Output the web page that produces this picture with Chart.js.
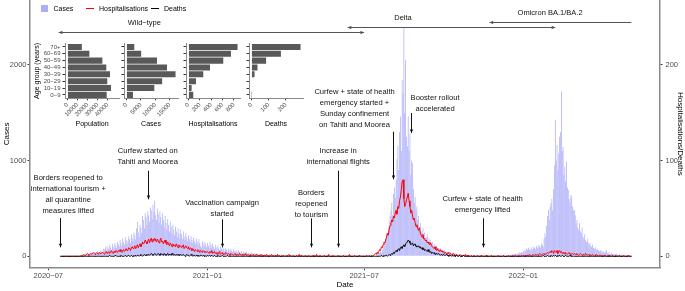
<!DOCTYPE html>
<html>
<head>
<meta charset="utf-8">
<script src="https://cdn.jsdelivr.net/npm/chart.js@4.4.1/dist/chart.umd.min.js"></script>
<style>
  body { margin: 0; background: #fff; }
  #wrap { position: relative; width: 685px; height: 291px; overflow: hidden; font-family: 'Liberation Sans', Arial, sans-serif; }
  #main { position: absolute; left: 0; top: 0; }
  .key { position: absolute; }
  .keytxt { position: absolute; top: 4px; font-size: 7px; line-height: 9px; color: #000; white-space: nowrap; }
</style>
</head>
<body>
<div id="wrap">
  <canvas id="main" width="685" height="291"></canvas>
</div>
<script>
// ---- daily series, one sub-array per month (first chunk starts 15 Jul 2020) ----
const chunkStarts = ['2020-07-15', '2020-08-01', '2020-09-01', '2020-10-01', '2020-11-01', '2020-12-01',
  '2021-01-01', '2021-02-01', '2021-03-01', '2021-04-01', '2021-05-01', '2021-06-01',
  '2021-07-01', '2021-08-01', '2021-09-01', '2021-10-01', '2021-11-01', '2021-12-01',
  '2022-01-01', '2022-02-01', '2022-03-01', '2022-04-01', '2022-05-01'];

const cases = [
  [0,0,0,0,0,0,0,0,0,1,0,0,2,0,1,0,3],
  [2,0,4,3,6,5,8,12,10,15,9,20,18,25,14,22,30,28,19,35,40,26,33,45,38,30,52,41,36,60,48],
  [60,45,80,70,95,55,110,85,70,120,95,60,130,100,80,140,115,90,150,125,100,170,140,110,185,150,120,200,170,130],
  [160,210,180,140,230,190,160,250,220,175,290,360,250,200,330,300,240,420,380,290,450,410,330,470,430,360,510,480,390,540,460],
  [580,430,380,500,440,350,470,410,330,450,380,300,420,350,280,390,330,260,360,310,240,330,280,220,310,260,200,290,240,190],
  [280,230,180,260,210,170,240,200,160,220,180,150,210,170,140,200,160,130,190,150,120,180,140,110,90,160,130,100,150,120,95],
  [140,110,85,150,120,90,130,100,80,120,95,70,110,85,65,100,80,60,95,75,55,90,70,50,85,65,48,80,60,45,70],
  [55,40,65,50,38,60,45,33,55,40,30,50,36,28,45,33,25,40,30,22,38,28,20,35,25,18,30,22],
  [16,26,18,14,22,15,12,20,14,10,18,12,9,15,10,8,13,9,7,12,8,6,10,7,5,9,6,5,8,5,4],
  [6,4,3,5,3,2,4,3,2,5,3,2,4,2,1,3,2,1,3,2,1,2,2,1,3,1,1,2,1,1],
  [2,1,1,3,1,0,2,1,1,2,0,1,3,1,0,2,1,0,1,2,0,1,1,0,2,1,0,1,1,0,1],
  [1,0,2,1,0,1,1,0,2,1,0,1,2,0,1,1,0,2,1,0,1,2,1,0,2,1,1,3,1,2],
  [2,1,3,2,1,4,2,3,5,3,4,6,8,10,14,18,25,22,35,48,40,62,85,110,150,180,240,220,300,360,420],
  [480,560,430,650,720,610,800,1020,1150,900,1300,1460,1100,1845,1700,2385,1500,2050,1250,1150,1460,1100,1287,850,1000,973,700,554,620,480,520],
  [380,420,300,350,260,240,300,220,250,180,200,230,160,190,140,170,120,150,110,130,100,95,110,80,90,70,85,60,75,55],
  [50,65,45,55,40,35,48,30,42,28,35,25,32,20,28,18,25,15,20,14,18,12,15,10,14,9,12,8,10,7,9],
  [6,8,5,7,4,6,5,3,6,4,5,3,4,2,5,3,4,2,3,2,4,3,2,3,2,4,3,2,3,4],
  [3,4,3,5,4,3,6,5,4,6,5,7,8,10,12,9,15,14,18,20,16,25,28,22,30,26,35,40,32,45,38],
  [50,60,45,70,84,65,90,75,60,95,80,70,100,90,75,110,95,85,120,105,90,136,120,100,180,240,200,320,420,484,380],
  [520,554,600,480,700,950,1426,1000,1164,900,1077,1250,1300,1722,1100,1146,850,937,780,990,720,694,600,560,640,624,520,480],
  [484,430,345,380,300,280,350,260,240,300,205,190,230,170,150,180,136,120,140,110,100,120,90,80,95,70,66,80,60,55,65],
  [50,45,55,40,38,48,66,35,30,40,28,25,33,24,20,28,18,22,25,16,14,20,12,15,18,10,12,14,9,11],
  [8,10,6,9,5,4]
];

const hospitalisations = [
  [0,0,0,0,0,0,0,0,0,0,0,0,0,0,0,0,0],
  [0,0,0,0,0,0,0,1,0,1,2,1,1,2,3,2,1,2,3,2,3,4,3,2,3,4,3,2,4,3,3],
  [3,4,3,2,4,5,3,4,5,3,4,6,4,3,5,4,6,5,4,6,5,7,5,4,6,7,5,6,8,6],
  [7,9,8,6,9,10,8,9,11,8,10,12,9,11,13,10,12,15,13,14,17,15,13,16,18,14,17,19,15,18,16],
  [19,17,15,18,16,14,17,19,15,16,13,15,17,14,12,15,13,11,14,12,10,13,11,12,10,13,11,9,12,10],
  [11,9,10,12,8,10,11,9,8,10,7,9,8,6,8,7,5,7,6,5,7,6,4,6,5,4,6,5,4,5,4],
  [5,4,3,5,4,6,3,4,5,3,4,2,4,3,5,2,3,4,2,3,2,4,3,2,3,2,1,3,2,2,1],
  [2,3,1,2,2,1,3,2,1,2,1,2,1,3,1,1,2,1,0,2,1,1,2,0,1,1,2,0],
  [1,1,0,2,1,0,1,1,0,2,1,0,1,0,1,2,0,1,0,0,1,0,2,0,1,0,0,1,0,1,0],
  [0,1,0,0,2,0,1,0,0,1,0,0,0,1,0,0,2,0,0,1,0,0,0,1,0,0,0,1,0,0],
  [0,0,1,0,0,0,2,0,0,0,1,0,0,0,0,1,0,0,0,0,2,0,0,0,0,1,0,0,0,0,0],
  [1,0,0,0,0,0,1,0,0,0,0,0,0,2,0,0,0,0,0,1,0,0,0,0,0,1,0,0,0,0],
  [0,0,0,1,0,0,1,0,0,1,0,1,2,3,2,4,3,5,7,6,10,9,12,15,14,17,20,24,22,28,32],
  [34,38,36,42,40,45,48,44,52,50,58,62,70,78,80,60,52,55,59,62,66,58,52,45,48,42,38,40,35,31,33],
  [29,27,30,24,22,20,23,18,19,16,17,14,15,13,12,14,11,10,9,8,10,7,6,8,6,5,7,5,6,4],
  [5,3,4,3,2,4,3,2,3,2,1,3,2,2,1,2,1,0,1,2,1,0,1,1,0,2,0,1,0,1,0],
  [0,1,0,0,1,0,0,0,1,0,0,0,0,1,0,0,0,0,1,0,0,0,0,0,1,0,0,0,0,0],
  [0,0,1,0,0,0,0,0,1,0,0,0,0,0,1,0,0,0,0,1,0,0,1,0,0,0,1,0,0,1,0],
  [1,0,1,0,1,1,0,2,1,0,1,2,1,1,2,1,2,1,2,3,2,1,2,3,2,3,2,3,4,3,4],
  [5,4,6,5,3,6,5,4,6,3,5,6,4,5,3,4,3,2,4,3,2,3,4,2,3,2,3,2],
  [3,2,2,3,2,1,2,3,2,1,2,2,1,3,2,1,2,1,2,1,1,2,1,0,1,2,1,1,0,1,1],
  [1,0,1,0,1,1,0,0,1,0,1,0,0,1,0,0,0,1,0,0,0,1,0,0,0,0,1,0,0,0],
  [0,0,1,0,0,0]
];

const deaths = [
  [0,0,0,0,0,0,0,0,0,0,0,0,0,0,0,0,0],
  [0,0,0,0,0,0,0,0,0,0,0,0,0,0,0,0,0,0,0,0,0,0,0,0,0,0,0,0,0,0,0],
  [0,0,0,0,0,0,0,0,0,1,0,0,0,0,0,0,1,0,0,0,0,0,1,0,0,0,0,1,0,0],
  [0,1,0,0,1,0,0,1,0,1,0,1,1,0,1,2,1,0,1,2,1,1,2,1,2,1,2,3,2,1,2],
  [3,2,1,2,3,2,1,3,2,2,1,3,2,1,2,3,1,2,2,1,3,2,1,2,1,2,1,2,1,1],
  [2,1,1,2,1,0,1,2,1,1,0,1,2,1,0,1,1,0,1,1,0,1,0,1,1,0,1,0,1,0,0],
  [1,0,1,0,0,1,0,0,1,0,0,0,1,0,0,0,0,1,0,0,0,0,0,1,0,0,0,0,0,0,0],
  [0,0,0,0,0,0,0,0,0,0,0,0,0,0,0,0,0,0,0,0,0,0,0,0,0,0,0,0],
  [0,0,0,0,0,0,0,0,0,0,0,0,0,0,0,0,0,0,0,0,0,0,0,0,0,0,0,0,0,0,0],
  [0,0,0,0,0,0,0,0,0,0,0,0,0,0,0,0,0,0,0,0,0,0,0,0,0,0,0,0,0,0],
  [0,0,0,0,0,0,0,0,0,0,0,0,0,0,0,0,0,0,0,0,0,0,0,0,0,0,0,0,0,0,0],
  [0,0,0,0,0,0,0,0,0,0,0,0,0,0,0,0,0,0,0,0,0,0,0,0,0,0,0,0,0,0],
  [0,0,0,0,0,0,0,0,0,0,0,0,0,0,0,0,0,0,0,0,1,0,0,1,0,1,1,0,1,2,1],
  [2,3,2,4,3,5,6,5,7,8,6,9,10,8,11,12,10,13,14,15,17,16,14,12,13,14,11,12,13,10,11],
  [10,11,9,10,8,9,7,8,6,7,6,5,7,5,4,5,3,4,3,4,2,3,3,2,3,2,1,2,2,1],
  [2,1,1,2,1,1,0,1,1,0,1,0,1,0,0,1,0,0,1,0,0,0,0,1,0,0,0,0,0,0,0],
  [0,0,0,0,0,0,0,0,0,0,0,0,0,0,0,0,0,0,0,0,0,0,0,0,0,0,0,0,0,0],
  [0,0,0,0,0,0,0,0,0,0,0,0,0,0,0,0,0,0,0,0,0,0,0,0,0,0,0,0,0,0,0],
  [0,0,0,0,0,0,0,0,0,0,0,0,0,0,0,0,0,0,0,0,0,0,0,1,0,0,0,0,1,0,0],
  [0,1,0,0,1,0,1,0,0,1,0,1,0,0,1,0,0,0,1,0,0,0,0,1,0,0,0,0],
  [0,0,0,0,0,0,0,0,0,0,0,0,0,0,0,0,0,0,0,0,0,0,0,0,0,0,0,0,0,0,0],
  [0,0,0,0,0,0,0,0,0,0,0,0,0,0,0,0,0,0,0,0,0,0,0,0,0,0,0,0,0,0],
  [0,0,0,0,0,0]
];

const tickDates = ['2020-07-01', '2021-01-01', '2021-07-01', '2022-01-01'];
const tickLabels = ['2020−07', '2021−01', '2021−07', '2022−01'];
const caseTicks = [0, 1000, 2000];
const hospTicks = [0, 100, 200];

// events with arrows
const eventDates = ['2020-07-15', '2020-10-24', '2021-01-18', '2021-05-01', '2021-06-01', '2021-08-03', '2021-08-24', '2021-11-15'];
const eventLabels = [
  ['Borders reopened to', 'international tourism +', 'all quarantine', 'measures lifted'],
  ['Curfew started on', 'Tahiti and Moorea'],
  ['Vaccination campaign', 'started'],
  ['Borders', 'reopened', 'to tourism'],
  ['Increase in', 'international flights'],
  ['Curfew + state of health', 'emergency started +', 'Sunday confinement', 'on Tahiti and Moorea'],
  ['Booster rollout', 'accelerated'],
  ['Curfew + state of health', 'emergency lifted']
];

// variant periods
const variantNames = ['Wild−type', 'Delta', 'Omicron BA.1/BA.2'];
const variantStart = ['2020-07-13', '2021-06-12', '2021-11-23'];
const variantEnd = ['2021-07-01', '2022-02-07', '2022-05-06'];

// inset: age groups
const ageGroups = ['0−9', '10−19', '20−29', '30−39', '40−49', '50−59', '60−69', '70+'];
const population = [39000, 43300, 39600, 42300, 38600, 34700, 21800, 14300];
const casesByAge = [2250, 9640, 12360, 17000, 14040, 10570, 5100, 2710];
const hospByAge = [85, 56, 132, 261, 379, 613, 748, 864];
const deathsByAge = [1, 0, 3, 18, 35, 85, 171, 285];
const insetTitles = ['Population', 'Cases', 'Hospitalisations', 'Deaths'];
const insetTicks = [[0, 10000, 20000, 30000, 40000], [0, 5000, 10000, 15000], [0, 200, 400, 600, 800], [0, 100, 200]];

// ---- helpers ----
const ORIGIN = Date.UTC(2020, 6, 1);
function dayOf(s) {
  const p = s.split('-').map(Number);
  return (Date.UTC(p[0], p[1] - 1, p[2]) - ORIGIN) / 864e5;
}
function daily(chunks) {
  const pts = [];
  chunks.forEach((vals, i) => {
    const d0 = dayOf(chunkStarts[i]);
    vals.forEach((v, j) => pts.push({ x: d0 + j, y: v }));
  });
  return pts;
}
function arrow(ctx, x1, y1, x2, y2, headStart, headEnd) {
  ctx.beginPath(); ctx.moveTo(x1, y1); ctx.lineTo(x2, y2); ctx.stroke();
  const head = (ax, ay, bx, by) => {
    const a = Math.atan2(by - ay, bx - ax), len = 4, w = 0.42;
    ctx.beginPath();
    ctx.moveTo(bx, by);
    ctx.lineTo(bx - len * Math.cos(a - w), by - len * Math.sin(a - w));
    ctx.lineTo(bx - len * Math.cos(a + w), by - len * Math.sin(a + w));
    ctx.closePath(); ctx.fill();
  };
  if (headEnd) head(x1, y1, x2, y2);
  if (headStart) head(x2, y2, x1, y1);
}

const FONT = "'Liberation Sans', Arial, sans-serif";
Chart.defaults.font.family = FONT;

// annotation layer: positions in data units (cases axis) and day offsets
const notesPlugin = {
  id: 'notes',
  afterDatasetsDraw(chart, args, o) {
    const { ctx } = chart;
    const x = chart.scales.x, y = chart.scales.y;
    ctx.save();
    ctx.textAlign = 'center';
    ctx.textBaseline = 'middle';
    ctx.lineWidth = 1;
    // events
    ctx.font = '7.6px ' + FONT;
    eventDates.forEach((d, i) => {
      const L = o.events[i];
      const px = Math.round(x.getPixelForValue(dayOf(d))) + 0.5;
      const tx = x.getPixelForValue(dayOf(d) + L.shift);
      const ty = y.getPixelForValue(L.text);
      ctx.fillStyle = '#111';
      eventLabels[i].forEach((s, k) => ctx.fillText(s, tx, ty + k * o.lineGap));
      ctx.strokeStyle = '#111';
      arrow(ctx, px, y.getPixelForValue(L.from), px, y.getPixelForValue(L.to), false, true);
    });
    // variant periods
    ctx.font = '7.5px ' + FONT;
    variantNames.forEach((name, i) => {
      const V = o.variants[i];
      const yy = Math.round(y.getPixelForValue(V.y)) + 0.5;
      ctx.strokeStyle = '#555'; ctx.fillStyle = '#555';
      arrow(ctx, x.getPixelForValue(dayOf(variantStart[i])), yy, x.getPixelForValue(dayOf(variantEnd[i])), yy, true, V.endHead);
      ctx.fillStyle = '#111';
      ctx.fillText(name, x.getPixelForValue(dayOf(V.textDate)), y.getPixelForValue(V.textY));
    });
    ctx.restore();
  }
};

const tickGrid = { drawOnChartArea: false, tickLength: 2.5, color: '#333', offset: false };
const axisBorder = { color: '#8a8a8a', width: 1.5 };

const mainChart = new Chart(document.getElementById('main'), {
  type: 'bar',
  data: {
    datasets: [
      { type: 'bar', label: 'Cases', data: daily(cases), backgroundColor: '#adadfa',
        barPercentage: 0.85, categoryPercentage: 1, yAxisID: 'y', order: 3 },
      { type: 'line', label: 'Hospitalisations', data: daily(hospitalisations), borderColor: '#ff0000',
        borderWidth: 1, pointRadius: 0, tension: 0, yAxisID: 'y2', order: 2 },
      { type: 'line', label: 'Deaths', data: daily(deaths), borderColor: '#000000',
        borderWidth: 1, pointRadius: 0, tension: 0, yAxisID: 'y2', order: 1 }
    ]
  },
  options: {
    responsive: false,
    animation: false,
    events: [],
    layout: { padding: 0 },
    plugins: {
      legend: { display: false },
      tooltip: { enabled: false },
      notes: {
        lineGap: 10.8,
        events: [
          { text: 815, from: 400, to: 94, shift: 9 },
          { text: 1100, from: 894, to: 596, shift: 0 },
          { text: 554, from: 387, to: 94, shift: 0 },
          { text: 658, from: 397, to: 94, shift: 0 },
          { text: 1100, from: 894, to: 94, shift: 0 },
          { text: 1714, from: 1302, to: 805, shift: -44 },
          { text: 1651, from: 1497, to: 1288, shift: 28 },
          { text: 599, from: 397, to: 94, shift: 0 }
        ],
        variants: [
          { y: 2347, textY: 2441, textDate: '2020-10-20', endHead: true },
          { y: 2399, textY: 2493, textDate: '2021-08-15', endHead: true },
          { y: 2448, textY: 2539, textDate: '2022-02-01', endHead: false }
        ]
      }
    },
    scales: {
      x: {
        type: 'linear', min: -21.15, max: 707, offset: false,
        afterBuildTicks: s => { s.ticks = tickDates.map(d => ({ value: dayOf(d) })); },
        afterFit: s => { s.height = 23.3; s.paddingLeft = 0; s.paddingRight = 0; },
        ticks: { callback: (v, i) => tickLabels[i], font: { size: 7.5 }, color: '#4d4d4d', padding: 1.5,
                 minRotation: 0, maxRotation: 0, autoSkip: false },
        grid: tickGrid, border: axisBorder,
        title: { display: true, text: 'Date', font: { size: 8 }, color: '#000', padding: { top: 0, bottom: 1.5 } }
      },
      y: {
        position: 'left', min: -119, max: 2678,
        afterBuildTicks: s => { s.ticks = caseTicks.map(v => ({ value: v })); },
        afterFit: s => { s.width = 30; s.paddingTop = 0; s.paddingBottom = 0; },
        ticks: { callback: v => v, font: { size: 7.5 }, color: '#4d4d4d', padding: 1 },
        grid: tickGrid, border: axisBorder,
        title: { display: true, text: 'Cases', font: { size: 8 }, color: '#000', padding: { top: 1.5, bottom: 0 } }
      },
      y2: {
        position: 'right', min: -11.9, max: 267.8,
        afterBuildTicks: s => { s.ticks = hospTicks.map(v => ({ value: v })); },
        afterFit: s => { s.width = 25; s.paddingTop = 0; s.paddingBottom = 0; },
        ticks: { callback: v => v, font: { size: 7.5 }, color: '#4d4d4d', padding: 3 },
        grid: tickGrid, border: axisBorder,
        title: { display: true, text: 'Hospitalisations/Deaths', font: { size: 8 }, color: '#000', padding: { top: 0, bottom: 0 } }
      }
    }
  },
  plugins: [notesPlugin]
});

// ---- legend (top left, over the panel) ----
const wrap = document.getElementById('wrap');
const keyLeft = [41, 86, 151];
mainChart.data.datasets.forEach((ds, i) => {
  const key = document.createElement('div');
  key.className = 'key';
  if (ds.type === 'bar') {
    key.style.cssText = `left:${keyLeft[i]}px;top:5px;width:7px;height:7px;background:${ds.backgroundColor}`;
  } else {
    key.style.cssText = `left:${keyLeft[i]}px;top:8px;width:8px;height:1.2px;background:${ds.borderColor}`;
  }
  wrap.appendChild(key);
  const t = document.createElement('div');
  t.className = 'keytxt';
  t.style.left = (keyLeft[i] + (ds.type === 'bar' ? 12.5 : 13)) + 'px';
  t.textContent = ds.label;
  wrap.appendChild(t);
});

// ---- inset: age-group panels ----
const panelLefts = [65, 124, 186, 249];
const PANEL_W = 54;
const insetValues = [population, casesByAge, hospByAge, deathsByAge];
const insetScaleMax = [48800, null, null, null];
insetTitles.forEach((title, k) => {
  const yw = k === 0 ? 37 : 3;
  const cv = document.createElement('canvas');
  cv.width = yw + PANEL_W + 3;
  cv.height = 94;
  cv.style.cssText = `position:absolute;left:${panelLefts[k] - yw}px;top:36px`;
  wrap.appendChild(cv);
  const M = insetScaleMax[k] || Math.max(...insetValues[k]);
  new Chart(cv, {
    type: 'bar',
    data: {
      labels: ageGroups,
      datasets: [{ data: insetValues[k], backgroundColor: '#595959', categoryPercentage: 0.88, barPercentage: 1 }]
    },
    options: {
      indexAxis: 'y',
      responsive: false,
      animation: false,
      events: [],
      layout: { padding: { top: 7.5, right: 3, left: 0, bottom: 0 } },
      plugins: { legend: { display: false }, tooltip: { enabled: false } },
      scales: {
        x: {
          type: 'linear', min: -0.05 * M, max: 1.05 * M,
          afterBuildTicks: s => { s.ticks = insetTicks[k].map(v => ({ value: v })); },
          afterFit: s => { s.height = 31.7; s.paddingLeft = 0; s.paddingRight = 0; },
          ticks: { callback: v => v, minRotation: 45, maxRotation: 45, autoSkip: false,
                   font: { size: 6 }, color: '#4d4d4d', padding: 1 },
          grid: { drawOnChartArea: false, tickLength: 2, color: '#333' },
          border: { color: '#8a8a8a', width: 1 },
          title: { display: true, text: title, font: { size: 7 }, color: '#000', padding: { top: 0, bottom: 1.8 } }
        },
        y: {
          reverse: true,
          afterFit: s => { s.width = yw; s.paddingTop = 0; s.paddingBottom = 0; },
          ticks: { callback: (v, i) => (k === 0 ? ageGroups[i] : ''), autoSkip: false,
                   font: { size: 6 }, color: '#4d4d4d', padding: 2 },
          grid: { drawOnChartArea: false, tickLength: 2.5, color: '#333', offset: false },
          border: { color: '#8a8a8a', width: 1 },
          title: { display: k === 0, text: 'Age group (years)', font: { size: 7 }, color: '#000', padding: { top: 4.5, bottom: 0 } }
        }
      }
    }
  });
});
</script>
</body>
</html>
